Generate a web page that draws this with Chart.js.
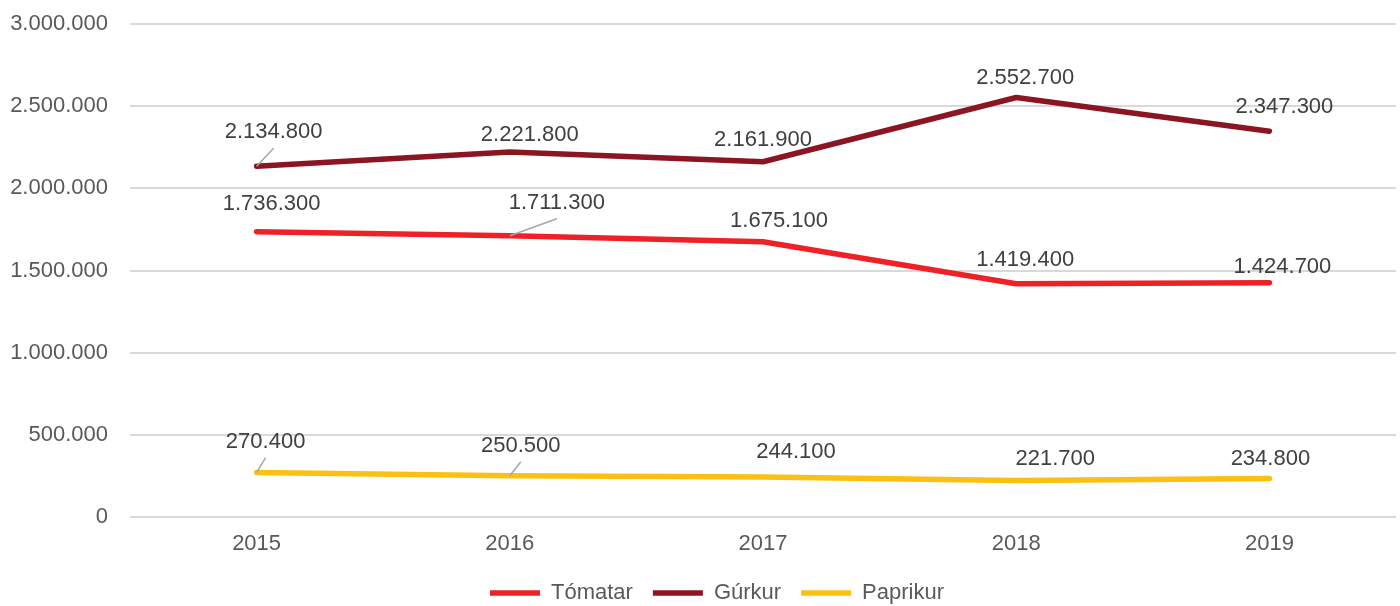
<!DOCTYPE html>
<html>
<head>
<meta charset="utf-8">
<title>Tómatar, gúrkur og paprikur</title>
<script src="https://cdn.jsdelivr.net/npm/chart.js@4"></script>
<style>
  html, body { margin: 0; padding: 0; background: #fff; overflow: hidden; }
  #wrap { width: 1400px; height: 606px; position: relative; }
</style>
</head>
<body>
<div id="wrap"><canvas id="veggieChart"></canvas></div>
<script>
var years = ['2015', '2016', '2017', '2018', '2019'];
var tomatar = [1736300, 1711300, 1675100, 1419400, 1424700];
var gurkur = [2134800, 2221800, 2161900, 2552700, 2347300];
var paprikur = [270400, 250500, 244100, 221700, 234800];
var yTicks = [0, 500000, 1000000, 1500000, 2000000, 2500000, 3000000];

// label placement relative to each point: [dx, dy, leader line]
var labelShift = {
    0: [[15, -28, false], [47, -33, true], [16, -21, false], [9, -24, false], [13, -16, false]],
    1: [[17, -34, true], [20, -17, false], [0, -22, false], [9, -20, false], [15, -24, false]],
    2: [[9, -31, true], [11, -30, true], [33, -25, false], [39, -22, false], [1, -19, false]]
};

var fontFamily = '"Liberation Sans", Arial, sans-serif';

function formatIs(v) {
    return String(v).replace(/\B(?=(\d{3})+(?!\d))/g, '.');
}

var valueLabels = {
    id: 'valueLabels',
    afterDatasetsDraw: function(chart) {
        var ctx = chart.ctx;
        ctx.save();
        ctx.font = '22px ' + fontFamily;
        ctx.textAlign = 'center';
        ctx.textBaseline = 'middle';
        chart.data.datasets.forEach(function(ds, di) {
            var meta = chart.getDatasetMeta(di);
            meta.data.forEach(function(pt, i) {
                var s = labelShift[di][i];
                var lx = pt.x + s[0];
                var ly = pt.y + s[1];
                if (s[2]) {
                    ctx.strokeStyle = '#a6a6a6';
                    ctx.lineWidth = 1.5;
                    ctx.beginPath();
                    ctx.moveTo(pt.x, pt.y);
                    ctx.lineTo(lx, ly + 16);
                    ctx.stroke();
                }
                ctx.fillStyle = '#404040';
                ctx.fillText(formatIs(ds.data[i]), lx, ly);
            });
        });
        ctx.restore();
    }
};

// move the legend row down/right a little after layout
var legendNudge = {
    id: 'legendNudge',
    afterLayout: function(chart) {
        var lg = chart.legend;
        lg.left += 19; lg.right += 19;
        lg.top += 8; lg.bottom += 8;
    }
};

function lineSet(label, data, color) {
    return {
        label: label,
        data: data,
        borderColor: color,
        backgroundColor: color,
        borderWidth: 5.5,
        borderCapStyle: 'round',
        borderJoinStyle: 'round',
        tension: 0,
        pointRadius: 0,
        pointHoverRadius: 0
    };
}

var ctx = document.getElementById('veggieChart').getContext('2d');
new Chart(ctx, {
    type: 'line',
    data: {
        labels: years,
        datasets: [
            lineSet('Tómatar', tomatar, '#ee2126'),
            lineSet('Gúrkur', gurkur, '#8b1520'),
            lineSet('Paprikur', paprikur, '#fcc012')
        ]
    },
    options: {
        responsive: true,
        maintainAspectRatio: false,
        animation: false,
        layout: { padding: { left: 0, right: 4, top: 24, bottom: 0 } },
        scales: {
            x: {
                offset: true,
                grid: { display: false, offset: true, drawTicks: false },
                border: { display: false },
                afterFit: function(scale) {
                    scale.height = 37;
                    scale.paddingLeft = 0;
                    scale.paddingRight = 0;
                },
                ticks: { color: '#595959', font: { family: fontFamily, size: 22 }, padding: 14, maxRotation: 0 }
            },
            y: {
                min: 0,
                max: 3000000,
                afterBuildTicks: function(scale) {
                    scale.ticks = yTicks.map(function(v) { return { value: v }; });
                },
                afterFit: function(scale) {
                    scale.width = 130;
                    scale.paddingTop = 0;
                    scale.paddingBottom = 0;
                },
                grid: { color: '#d9d9d9', lineWidth: 2, drawTicks: false },
                border: { display: false },
                ticks: {
                    color: '#595959',
                    font: { family: fontFamily, size: 22 },
                    padding: 22,
                    callback: function(v) { return formatIs(v); }
                }
            }
        },
        plugins: {
            legend: {
                position: 'bottom',
                labels: {
                    usePointStyle: true,
                    pointStyle: 'line',
                    pointStyleWidth: 50,
                    padding: 20,
                    color: '#595959',
                    font: { family: fontFamily, size: 22 }
                }
            },
            tooltip: { enabled: false }
        }
    },
    plugins: [valueLabels, legendNudge]
});
</script>
</body>
</html>
